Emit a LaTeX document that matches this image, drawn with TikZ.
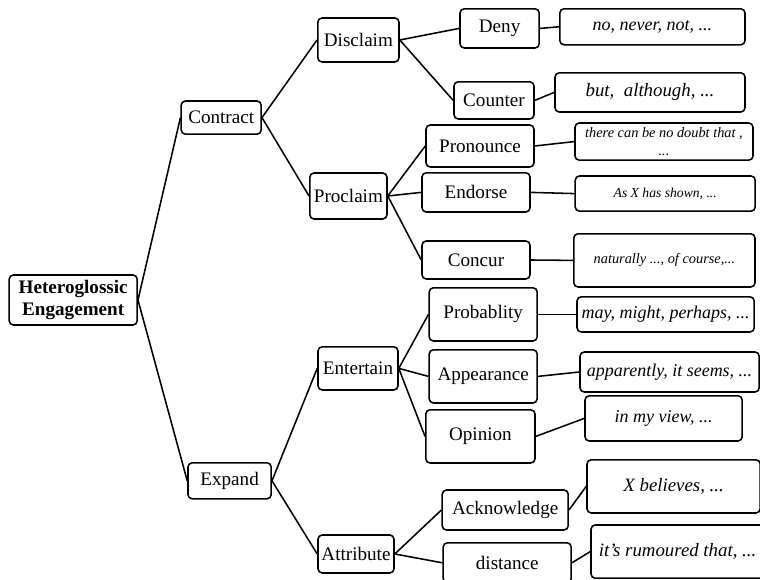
\documentclass[tikz,border=0pt]{standalone}
\usepackage{fontspec}
\setmainfont{Liberation Serif}
\tikzset{
    cat/.style={draw, rounded corners=3pt, align=center, inner sep=1pt, font=\fontsize{13.6}{16}\selectfont},
    ex/.style={cat, font=\fontsize{12.8}{15}\selectfont\itshape},
    exsmall/.style={cat, font=\fontsize{10.2}{12.5}\selectfont\itshape}
}

\begin{document}
\begin{tikzpicture}[line width=1.1pt]
    \useasboundingbox (0, 0) rectangle (19, 14.5);

    \node[cat, font=\fontsize{13.6}{16.3}\selectfont\bfseries, minimum width=3.2cm, minimum height=1.25cm] (engagement) at (1.83, 7) {Heteroglossic\\Engagement};

    \node[cat, minimum width=2cm, minimum height=0.83cm] (contract) at (5.53, 11.56) {Contract};
    \node[cat, minimum width=2.08cm, minimum height=0.9cm] (expand) at (5.74, 2.48) {Expand};

    \node[cat, minimum width=2.03cm, minimum height=1.1cm] (disclaim) at (8.96, 13.5) {Disclaim};
    \node[cat, minimum width=1.93cm, minimum height=1.15cm] (proclaim) at (8.71, 9.6) {Proclaim};
    \node[cat, minimum width=2cm, minimum height=1.08cm] (entertain) at (8.95, 5.29) {Entertain};
    \node[cat, minimum width=1.9cm, minimum height=0.95cm] (attribute) at (8.9, 0.65) {Attribute};

    \node[cat, minimum width=1.98cm, minimum height=0.98cm] (deny) at (12.49, 13.79) {Deny};
    \node[cat, minimum width=2cm, minimum height=0.93cm] (counter) at (12.35, 11.99) {Counter};
    \node[cat, minimum width=2.7cm, minimum height=1.05cm] (pronounce) at (12, 10.85) {Pronounce};
    \node[cat, minimum width=2.7cm, minimum height=0.98cm] (endorse) at (11.9, 9.69) {Endorse};
    \node[cat, minimum width=2.7cm, minimum height=0.95cm] (concur) at (11.9, 8) {Concur};
    \node[cat, minimum width=2.7cm, minimum height=1.33cm] (probability) at (12.08, 6.64) {Probablity};
    \node[cat, minimum width=2.7cm, minimum height=1.33cm] (appearance) at (12.08, 5.09) {Appearance};
    \node[cat, minimum width=2.73cm, minimum height=1.33cm] (opinion) at (12.01, 3.59) {Opinion};
    \node[cat, minimum width=3.15cm, minimum height=1cm] (acknowledge) at (12.63, 1.75) {Acknowledge};
    \node[cat, minimum width=3.2cm, minimum height=1cm] (distance) at (12.68, 0.43) {distance};

    \node[ex, minimum width=4.63cm, minimum height=0.9cm] (denyex) at (16.31, 13.83) {no, never, not, ...};
    \node[ex, font=\fontsize{13.4}{16}\selectfont\itshape, minimum width=4.75cm, minimum height=0.98cm] (counterex) at (16.25, 12.19) {but,\ \ although, ...};
    \node[exsmall, minimum width=4.45cm, minimum height=0.93cm] (pronounceex) at (16.6, 10.96) {there can be no doubt that ,\\...};
    \node[exsmall, font=\fontsize{9.7}{12}\selectfont\itshape, minimum width=4.5cm, minimum height=0.88cm] (endorseex) at (16.63, 9.66) {As X has shown, ...};
    \node[exsmall, minimum width=4.53cm, minimum height=1.33cm] (concurex) at (16.61, 7.99) {naturally ..., of course,...};
    \node[ex, minimum width=4.43cm, minimum height=0.88cm] (probabilityex) at (16.64, 6.64) {may, might, perhaps, ...};
    \node[ex, minimum width=4.48cm, minimum height=1cm] (appearanceex) at (16.74, 5.2) {apparently, it seems, ...};
    \node[ex, minimum width=3.93cm, minimum height=1.13cm] (opinionex) at (16.59, 4.04) {in my view, ...};
    \node[ex, font=\fontsize{13.4}{16}\selectfont\itshape, minimum width=4.33cm, minimum height=1.33cm] (acknowledgeex) at (16.84, 2.34) {X believes, ...};
    \node[ex, font=\fontsize{13.4}{16}\selectfont\itshape, minimum width=4.33cm, minimum height=1.33cm] (distanceex) at (16.94, 0.71) {it's rumoured that, ...};

    \draw (engagement.east) edge (contract.west) edge (expand.west);
    \draw (contract.east) edge (disclaim.west) edge (proclaim.west);
    \draw (expand.east) edge (entertain.west) edge (attribute.west);
    \draw (disclaim.east) edge (deny.west) edge (counter.west);
    \draw (proclaim.east) edge (pronounce.west) edge (endorse.west) edge (concur.west);
    \draw (entertain.east) edge (probability.west) edge (appearance.west) edge (opinion.west);
    \draw (attribute.east) edge (acknowledge.west) edge (distance.west);

    \draw (deny.east) -- (denyex.west);
    \draw (counter.east) -- (counterex.west);
    \draw (pronounce.east) -- (pronounceex.west);
    \draw (endorse.east) -- (endorseex.west);
    \draw (concur.east) -- (concurex.west);
    \draw (probability.east) -- (probabilityex.west);
    \draw (appearance.east) -- (appearanceex.west);
    \draw (opinion.east) -- (opinionex.west);
    \draw (acknowledge.east) -- (acknowledgeex.west);
    \draw (distance.east) -- (distanceex.west);
\end{tikzpicture}
\end{document}
